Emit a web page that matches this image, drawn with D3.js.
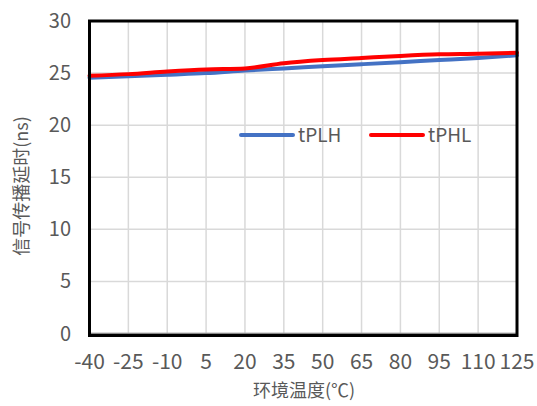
<!DOCTYPE html>
<html>
<head>
<meta charset="utf-8">
<script src="https://cdn.jsdelivr.net/npm/d3@7"></script>
<style>
  body { margin: 0; background: #fff; }
  svg { display: block; font-family: "Noto Sans CJK SC", "Noto Sans", sans-serif; }
</style>
</head>
<body>
<div id="chart"></div>
<script>
// temperature categories (℃)
var temps = ["-40", "-25", "-10", "5", "20", "35", "50", "65", "80", "95", "110", "125"];
// propagation delay, ns
var tPLH = [24.55, 24.7, 24.85, 25.0, 25.25, 25.45, 25.65, 25.85, 26.05, 26.25, 26.45, 26.7];
var tPHL = [24.75, 24.9, 25.15, 25.35, 25.45, 25.95, 26.25, 26.45, 26.65, 26.8, 26.85, 26.95];
var yTicks = [0, 5, 10, 15, 20, 25, 30];

var width = 537, height = 406;
var plotLeft = 89.5, plotRight = 517, plotTop = 21, plotBottom = 333.5;
var textColor = "#595959";

var svg = d3.select("#chart").append("svg")
    .attr("width", width)
    .attr("height", height);

var x = d3.scalePoint().domain(temps).range([plotLeft, plotRight]);
var y = d3.scaleLinear().domain([0, 30]).range([plotBottom, plotTop]);

// gridlines
svg.append("g").selectAll("line")
    .data(temps)
    .enter().append("line")
    .attr("x1", d => x(d)).attr("x2", d => x(d))
    .attr("y1", plotTop).attr("y2", plotBottom)
    .attr("stroke", "#d9d9d9").attr("stroke-width", 1.5);

svg.append("g").selectAll("line")
    .data(yTicks)
    .enter().append("line")
    .attr("x1", plotLeft).attr("x2", plotRight)
    .attr("y1", d => y(d)).attr("y2", d => y(d))
    .attr("stroke", "#d9d9d9").attr("stroke-width", 1.5);

// x axis line
svg.append("line")
    .attr("x1", plotLeft).attr("x2", plotRight)
    .attr("y1", plotBottom).attr("y2", plotBottom)
    .attr("stroke", "#898989").attr("stroke-width", 1.5);

// series
var line = d3.line()
    .x((d, i) => x(temps[i]))
    .y(d => y(d))
    .curve(d3.curveMonotoneX);

svg.append("path").datum(tPLH)
    .attr("d", line)
    .attr("fill", "none")
    .attr("stroke", "#4472c4")
    .attr("stroke-width", 4)
    .attr("stroke-linecap", "round");

svg.append("path").datum(tPHL)
    .attr("d", line)
    .attr("fill", "none")
    .attr("stroke", "#ff0000")
    .attr("stroke-width", 4)
    .attr("stroke-linecap", "round");

// plot frame
svg.append("rect")
    .attr("x", plotLeft).attr("y", plotTop)
    .attr("width", plotRight - plotLeft).attr("height", plotBottom + 2 - plotTop)
    .attr("fill", "none")
    .attr("stroke", "#000").attr("stroke-width", 3);

// y tick labels
svg.append("g").selectAll("text")
    .data(yTicks)
    .enter().append("text")
    .attr("x", 71)
    .attr("y", d => y(d))
    .attr("dy", "0.35em")
    .attr("text-anchor", "end")
    .attr("font-size", 20)
    .attr("fill", textColor)
    .text(d => d);

// x tick labels
svg.append("g").selectAll("text")
    .data(temps)
    .enter().append("text")
    .attr("x", d => x(d))
    .attr("y", 369)
    .attr("text-anchor", "middle")
    .attr("font-size", 21)
    .attr("fill", textColor)
    .text(d => d);

// axis titles
svg.append("text")
    .attr("x", 304).attr("y", 397)
    .attr("text-anchor", "middle")
    .attr("font-size", 18)
    .attr("fill", textColor)
    .text("环境温度(℃)");

svg.append("text")
    .attr("transform", "translate(28,186) rotate(-90)")
    .attr("text-anchor", "middle")
    .attr("font-size", 18)
    .attr("fill", textColor)
    .text("信号传播延时(ns)");

// legend
var legend = [
    {name: "tPLH", color: "#4472c4", x: 241},
    {name: "tPHL", color: "#ff0000", x: 371}
];
var lg = svg.append("g").selectAll("g")
    .data(legend)
    .enter().append("g")
    .attr("transform", d => "translate(" + d.x + ",135)");
lg.append("line")
    .attr("x1", 0).attr("x2", 52)
    .attr("stroke", d => d.color)
    .attr("stroke-width", 4)
    .attr("stroke-linecap", "round");
lg.append("text")
    .attr("x", 57)
    .attr("dy", "0.36em")
    .attr("font-size", 19)
    .attr("fill", textColor)
    .text(d => d.name);
</script>
</body>
</html>
